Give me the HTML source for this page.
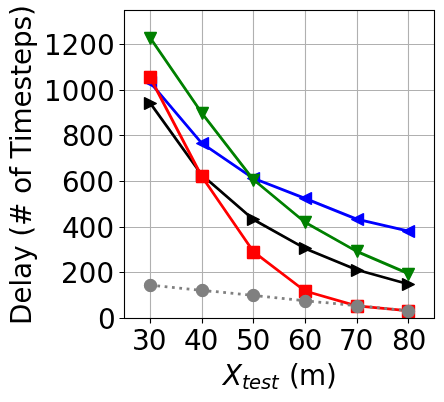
<!DOCTYPE html><html><head><meta charset="utf-8"><title>plot</title><style>html,body{margin:0;padding:0;background:#fff;font-family:"Liberation Sans",sans-serif}svg{display:block}</style></head><body><svg role="img" width="444" height="402" viewBox="0 0 444 402">
<title>Delay (# of Timesteps) vs X_test (m)</title>
<rect width="444" height="402" fill="#fff"/>
<path d="M149.94 9.92V317.92H151.06V9.92ZM201.94 9.92V317.92H203.06V9.92ZM252.94 9.92V317.92H254.06V9.92ZM304.94 9.92V317.92H306.06V9.92ZM356.94 9.92V317.92H358.06V9.92ZM407.94 9.92V317.92H409.06V9.92ZM124.15 317.94V319.06H434.15V317.94ZM124.15 271.94V273.06H434.15V271.94ZM124.15 226.94V228.06H434.15V226.94ZM124.15 180.94V182.06H434.15V180.94ZM124.15 134.94V136.06H434.15V134.94ZM124.15 89.94V91.06H434.15V89.94ZM124.15 43.95V45.05H434.15V43.95Z" fill="#b0b0b0"/>
<clipPath id="c"><rect x="124.15" y="9.92" width="310" height="308"/></clipPath>
<g clip-path="url(#c)">
<path d="M149.99 82.25L201.65 143.16L253.32 178.3L304.99 198.37L356.65 219.13L408.32 231" stroke="#0000ff" stroke-width="2.78" fill="none" stroke-linejoin="round" stroke-linecap="square"/>
<path d="M144.5 82.5L156.5 76.5L156.5 88.5Z" fill="#0000ff" stroke="#0000ff" stroke-width="1.39" stroke-linejoin="bevel"/>
<path d="M196.5 143.5L208.5 137.5L208.5 149.5Z" fill="#0000ff" stroke="#0000ff" stroke-width="1.39" stroke-linejoin="bevel"/>
<path d="M247.5 178.5L259.5 172.5L259.5 184.5Z" fill="#0000ff" stroke="#0000ff" stroke-width="1.39" stroke-linejoin="bevel"/>
<path d="M299.5 198.5L311.5 192.5L311.5 204.5Z" fill="#0000ff" stroke="#0000ff" stroke-width="1.39" stroke-linejoin="bevel"/>
<path d="M351.5 219.5L363.5 213.5L363.5 225.5Z" fill="#0000ff" stroke="#0000ff" stroke-width="1.39" stroke-linejoin="bevel"/>
<path d="M402.5 231.5L414.5 225.5L414.5 237.5Z" fill="#0000ff" stroke="#0000ff" stroke-width="1.39" stroke-linejoin="bevel"/>
<path d="M149.99 37.53L201.65 112.82L253.32 179.55L304.99 222.26L356.65 251.39L408.32 273.55" stroke="#008000" stroke-width="2.78" fill="none" stroke-linejoin="round" stroke-linecap="square"/>
<path d="M150.5 44.5L144.5 32.5L156.5 32.5Z" fill="#008000" stroke="#008000" stroke-width="1.39" stroke-linejoin="bevel"/>
<path d="M202.5 119.5L196.5 107.5L208.5 107.5Z" fill="#008000" stroke="#008000" stroke-width="1.39" stroke-linejoin="bevel"/>
<path d="M253.5 186.5L247.5 174.5L259.5 174.5Z" fill="#008000" stroke="#008000" stroke-width="1.39" stroke-linejoin="bevel"/>
<path d="M305.5 228.5L299.5 216.5L311.5 216.5Z" fill="#008000" stroke="#008000" stroke-width="1.39" stroke-linejoin="bevel"/>
<path d="M357.5 257.5L351.5 245.5L363.5 245.5Z" fill="#008000" stroke="#008000" stroke-width="1.39" stroke-linejoin="bevel"/>
<path d="M408.5 280.5L402.5 268.5L414.5 268.5Z" fill="#008000" stroke="#008000" stroke-width="1.39" stroke-linejoin="bevel"/>
<path d="M149.99 102.89L201.65 174.76L253.32 219.45L304.99 248.41L356.65 269.78L408.32 284.16" stroke="#000000" stroke-width="2.78" fill="none" stroke-linejoin="round" stroke-linecap="square"/>
<path d="M156.5 103.5L144.5 97.5L144.5 109.5Z" fill="#000000" stroke="#000000" stroke-width="1.39" stroke-linejoin="bevel"/>
<path d="M208.5 175.5L196.5 169.5L196.5 181.5Z" fill="#000000" stroke="#000000" stroke-width="1.39" stroke-linejoin="bevel"/>
<path d="M259.5 219.5L247.5 213.5L247.5 225.5Z" fill="#000000" stroke="#000000" stroke-width="1.39" stroke-linejoin="bevel"/>
<path d="M311.5 248.5L299.5 242.5L299.5 254.5Z" fill="#000000" stroke="#000000" stroke-width="1.39" stroke-linejoin="bevel"/>
<path d="M363.5 270.5L351.5 264.5L351.5 276.5Z" fill="#000000" stroke="#000000" stroke-width="1.39" stroke-linejoin="bevel"/>
<path d="M414.5 284.5L402.5 278.5L402.5 290.5Z" fill="#000000" stroke="#000000" stroke-width="1.39" stroke-linejoin="bevel"/>
<path d="M149.99 77.23L201.65 176.24L253.32 251.53L304.99 291L356.65 305.83L408.32 310.85" stroke="#ff0000" stroke-width="2.78" fill="none" stroke-linejoin="round" stroke-linecap="square"/>
<rect x="144.5" y="71.5" width="12" height="12" fill="#ff0000" stroke="#ff0000" stroke-width="1.39" stroke-linejoin="bevel"/>
<rect x="196.5" y="170.5" width="12" height="12" fill="#ff0000" stroke="#ff0000" stroke-width="1.39" stroke-linejoin="bevel"/>
<rect x="247.5" y="246.5" width="12" height="12" fill="#ff0000" stroke="#ff0000" stroke-width="1.39" stroke-linejoin="bevel"/>
<rect x="299.5" y="285.5" width="12" height="12" fill="#ff0000" stroke="#ff0000" stroke-width="1.39" stroke-linejoin="bevel"/>
<rect x="351.5" y="300.5" width="12" height="12" fill="#ff0000" stroke="#ff0000" stroke-width="1.39" stroke-linejoin="bevel"/>
<rect x="402.5" y="305.5" width="12" height="12" fill="#ff0000" stroke="#ff0000" stroke-width="1.39" stroke-linejoin="bevel"/>
<path d="M149.99 285.07L201.65 290.32L253.32 295.34L304.99 300.81L356.65 305.6L408.32 310.85" stroke="#808080" stroke-width="2.78" fill="none" stroke-dasharray="2.78 4.58" stroke-dashoffset="0"/>
<circle cx="150.5" cy="285.5" r="6" fill="#808080" stroke="#808080" stroke-width="1.39"/>
<circle cx="202.5" cy="290.5" r="6" fill="#808080" stroke="#808080" stroke-width="1.39"/>
<circle cx="253.5" cy="295.5" r="6" fill="#808080" stroke="#808080" stroke-width="1.39"/>
<circle cx="305.5" cy="301.5" r="6" fill="#808080" stroke="#808080" stroke-width="1.39"/>
<circle cx="357.5" cy="306.5" r="6" fill="#808080" stroke="#808080" stroke-width="1.39"/>
<circle cx="408.5" cy="311.5" r="6" fill="#808080" stroke="#808080" stroke-width="1.39"/>
</g>
<path d="M149.94 318.5V323.5H151.06V318.5ZM201.94 318.5V323.5H203.06V318.5ZM252.94 318.5V323.5H254.06V318.5ZM304.94 318.5V323.5H306.06V318.5ZM356.94 318.5V323.5H358.06V318.5ZM407.94 318.5V323.5H409.06V318.5ZM119.5 317.94V319.06H124.5V317.94ZM119.5 271.94V273.06H124.5V271.94ZM119.5 226.94V228.06H124.5V226.94ZM119.5 180.94V182.06H124.5V180.94ZM119.5 134.94V136.06H124.5V134.94ZM119.5 89.94V91.06H124.5V89.94ZM119.5 43.95V45.05H124.5V43.95Z" fill="#000"/>
<rect x="124.5" y="10.5" width="310" height="308" fill="none" stroke="#000" stroke-width="1.11"/>
<path aria-label="30" transform="translate(132 350)" d="M11.3 -11.31L12.23 -11.04L13.05 -10.66L13.77 -10.17L14.38 -9.56L14.87 -8.86L15.22 -8.08L15.43 -7.22L15.5 -6.28L15.37 -4.87L14.98 -3.62L14.33 -2.55L13.42 -1.64L12.28 -0.92L10.92 -0.41L9.34 -0.1L7.55 0L6.91 -0.01L6.26 -0.06L5.6 -0.13L4.92 -0.23L4.24 -0.37L3.54 -0.53L2.84 -0.73L2.12 -0.95L2.12 -3.67L2.71 -3.32L3.32 -3.02L3.96 -2.76L4.62 -2.55L5.31 -2.38L6.02 -2.27L6.73 -2.2L7.47 -2.17L8.68 -2.24L9.74 -2.45L10.64 -2.8L11.39 -3.3L11.99 -3.93L12.41 -4.69L12.67 -5.57L12.75 -6.58L12.67 -7.52L12.43 -8.36L12.04 -9.09L11.48 -9.7L10.8 -10.2L9.98 -10.55L9.05 -10.76L7.98 -10.83L5.62 -10.83L5.62 -13L8.09 -13L9.04 -13.05L9.87 -13.18L10.58 -13.41L11.17 -13.73L11.64 -14.14L11.98 -14.63L12.18 -15.21L12.25 -15.86L12.18 -16.54L11.97 -17.13L11.63 -17.64L11.14 -18.06L10.53 -18.4L9.8 -18.64L8.96 -18.78L7.98 -18.83L7.41 -18.81L6.82 -18.77L6.2 -18.7L5.56 -18.59L4.91 -18.47L4.21 -18.31L3.49 -18.12L2.73 -17.91L2.73 -20.19L3.5 -20.38L4.25 -20.54L4.96 -20.68L5.66 -20.8L6.33 -20.89L6.99 -20.95L7.62 -20.99L8.23 -21L9.71 -20.91L11.03 -20.64L12.18 -20.2L13.17 -19.58L13.97 -18.81L14.54 -17.92L14.89 -16.9L15 -15.75L14.94 -14.95L14.76 -14.21L14.46 -13.53L14.03 -12.92L13.5 -12.39L12.87 -11.94L12.14 -11.58L11.3 -11.31ZM25.62 -18.83L24.63 -18.7L23.77 -18.31L23.04 -17.66L22.44 -16.75L21.97 -15.58L21.64 -14.15L21.44 -12.46L21.38 -10.5L21.44 -8.54L21.64 -6.85L21.97 -5.42L22.44 -4.25L23.04 -3.34L23.77 -2.69L24.63 -2.3L25.62 -2.17L26.62 -2.3L27.48 -2.69L28.21 -3.34L28.81 -4.25L29.28 -5.42L29.61 -6.85L29.81 -8.54L29.88 -10.5L29.81 -12.46L29.61 -14.15L29.28 -15.58L28.81 -16.75L28.21 -17.66L27.48 -18.31L26.62 -18.7L25.62 -18.83ZM25.62 -21L27.23 -20.83L28.63 -20.33L29.83 -19.49L30.83 -18.31L31.61 -16.82L32.18 -15.02L32.51 -12.91L32.62 -10.5L32.51 -8.09L32.18 -5.98L31.61 -4.18L30.83 -2.69L29.83 -1.51L28.63 -0.67L27.23 -0.17L25.62 0L24.02 -0.17L22.62 -0.67L21.42 -1.51L20.42 -2.69L19.64 -4.18L19.07 -5.98L18.74 -8.09L18.62 -10.5L18.74 -12.91L19.07 -15.02L19.64 -16.82L20.42 -18.31L21.42 -19.49L22.62 -20.33L24.02 -20.83L25.62 -21Z" fill="#000"/>
<path aria-label="40" transform="translate(184 350)" d="M10.5 -18.53L3.59 -7.34L10.5 -7.34L10.5 -18.53ZM9.78 -21L13.25 -21L13.25 -7.34L16.12 -7.34L16.12 -5L13.25 -5L13.25 0L10.5 0L10.5 -5L1.38 -5L1.38 -7.72L9.78 -21ZM25.5 -18.83L24.5 -18.7L23.64 -18.31L22.91 -17.66L22.31 -16.75L21.85 -15.58L21.52 -14.15L21.32 -12.46L21.25 -10.5L21.32 -8.54L21.52 -6.85L21.85 -5.42L22.31 -4.25L22.91 -3.34L23.64 -2.69L24.5 -2.3L25.5 -2.17L26.5 -2.3L27.36 -2.69L28.09 -3.34L28.69 -4.25L29.15 -5.42L29.48 -6.85L29.68 -8.54L29.75 -10.5L29.68 -12.46L29.48 -14.15L29.15 -15.58L28.69 -16.75L28.09 -17.66L27.36 -18.31L26.5 -18.7L25.5 -18.83ZM25.5 -21L27.1 -20.83L28.5 -20.33L29.7 -19.49L30.7 -18.31L31.49 -16.82L32.05 -15.02L32.39 -12.91L32.5 -10.5L32.39 -8.09L32.05 -5.98L31.49 -4.18L30.7 -2.69L29.7 -1.51L28.5 -0.67L27.1 -0.17L25.5 0L23.9 -0.17L22.5 -0.67L21.3 -1.51L20.3 -2.69L19.51 -4.18L18.95 -5.98L18.61 -8.09L18.5 -10.5L18.61 -12.91L18.95 -15.02L19.51 -16.82L20.3 -18.31L21.3 -19.49L22.5 -20.33L23.9 -20.83L25.5 -21Z" fill="#000"/>
<path aria-label="50" transform="translate(236 350)" d="M3 -21L13.75 -21L13.75 -18.83L5.5 -18.83L5.5 -13.61L5.8 -13.7L6.09 -13.77L6.39 -13.84L6.69 -13.89L6.99 -13.94L7.29 -13.97L7.59 -13.99L7.89 -14L9.5 -13.88L10.93 -13.53L12.19 -12.94L13.27 -12.11L14.13 -11.08L14.75 -9.89L15.13 -8.53L15.25 -7L15.12 -5.43L14.74 -4.04L14.1 -2.84L13.2 -1.83L12.08 -1.03L10.75 -0.46L9.22 -0.11L7.47 0L6.83 -0.01L6.18 -0.05L5.52 -0.11L4.86 -0.2L4.2 -0.32L3.52 -0.46L2.83 -0.62L2.12 -0.81L2.12 -3.56L2.74 -3.23L3.36 -2.95L4 -2.71L4.64 -2.52L5.31 -2.37L5.99 -2.26L6.69 -2.19L7.41 -2.17L8.52 -2.25L9.52 -2.5L10.38 -2.9L11.12 -3.47L11.73 -4.17L12.16 -5L12.41 -5.93L12.5 -6.98L12.41 -8.05L12.16 -9L11.73 -9.82L11.12 -10.53L10.38 -11.1L9.52 -11.5L8.53 -11.75L7.42 -11.83L6.88 -11.81L6.33 -11.76L5.78 -11.68L5.23 -11.56L4.68 -11.42L4.13 -11.24L3.57 -11.02L3 -10.77L3 -21ZM25.5 -18.83L24.5 -18.7L23.64 -18.31L22.91 -17.66L22.31 -16.75L21.85 -15.58L21.52 -14.15L21.32 -12.46L21.25 -10.5L21.32 -8.54L21.52 -6.85L21.85 -5.42L22.31 -4.25L22.91 -3.34L23.64 -2.69L24.5 -2.3L25.5 -2.17L26.5 -2.3L27.36 -2.69L28.09 -3.34L28.69 -4.25L29.15 -5.42L29.48 -6.85L29.68 -8.54L29.75 -10.5L29.68 -12.46L29.48 -14.15L29.15 -15.58L28.69 -16.75L28.09 -17.66L27.36 -18.31L26.5 -18.7L25.5 -18.83ZM25.5 -21L27.1 -20.83L28.5 -20.33L29.7 -19.49L30.7 -18.31L31.49 -16.82L32.05 -15.02L32.39 -12.91L32.5 -10.5L32.39 -8.09L32.05 -5.98L31.49 -4.18L30.7 -2.69L29.7 -1.51L28.5 -0.67L27.1 -0.17L25.5 0L23.9 -0.17L22.5 -0.67L21.3 -1.51L20.3 -2.69L19.51 -4.18L18.95 -5.98L18.61 -8.09L18.5 -10.5L18.61 -12.91L18.95 -15.02L19.51 -16.82L20.3 -18.31L21.3 -19.49L22.5 -20.33L23.9 -20.83L25.5 -21Z" fill="#000"/>
<path aria-label="60" transform="translate(288 350)" d="M9.14 -12L8.27 -11.92L7.49 -11.67L6.81 -11.26L6.22 -10.69L5.75 -9.97L5.42 -9.13L5.22 -8.17L5.16 -7.08L5.22 -6L5.42 -5.05L5.75 -4.21L6.22 -3.48L6.81 -2.91L7.49 -2.5L8.27 -2.25L9.14 -2.17L10.01 -2.25L10.79 -2.5L11.47 -2.91L12.05 -3.48L12.52 -4.21L12.86 -5.05L13.06 -6L13.12 -7.08L13.06 -8.17L12.86 -9.13L12.52 -9.97L12.05 -10.69L11.47 -11.26L10.79 -11.67L10.01 -11.92L9.14 -12ZM14.56 -20.23L14.56 -17.88L14.04 -18.09L13.51 -18.29L12.98 -18.45L12.45 -18.58L11.93 -18.69L11.41 -18.77L10.88 -18.81L10.36 -18.83L9.07 -18.72L7.95 -18.39L6.99 -17.83L6.19 -17.06L5.56 -16.07L5.11 -14.84L4.84 -13.39L4.75 -11.72L5.17 -12.28L5.64 -12.77L6.17 -13.18L6.73 -13.53L7.34 -13.81L7.98 -14.01L8.66 -14.13L9.36 -14.17L10.79 -14.05L12.06 -13.7L13.17 -13.1L14.12 -12.27L14.89 -11.23L15.44 -10.02L15.77 -8.63L15.88 -7.08L15.76 -5.56L15.41 -4.19L14.84 -2.99L14.03 -1.94L13.03 -1.09L11.88 -0.48L10.57 -0.12L9.11 0L7.46 -0.17L6.01 -0.67L4.77 -1.51L3.73 -2.69L2.92 -4.18L2.34 -5.98L1.99 -8.09L1.88 -10.5L2.02 -12.78L2.45 -14.81L3.16 -16.6L4.16 -18.14L5.39 -19.39L6.83 -20.29L8.46 -20.82L10.28 -21L10.8 -20.99L11.32 -20.95L11.84 -20.89L12.36 -20.81L12.9 -20.71L13.44 -20.57L14 -20.42L14.56 -20.23ZM25.5 -18.83L24.5 -18.7L23.64 -18.31L22.91 -17.66L22.31 -16.75L21.85 -15.58L21.52 -14.15L21.32 -12.46L21.25 -10.5L21.32 -8.54L21.52 -6.85L21.85 -5.42L22.31 -4.25L22.91 -3.34L23.64 -2.69L24.5 -2.3L25.5 -2.17L26.5 -2.3L27.36 -2.69L28.09 -3.34L28.69 -4.25L29.15 -5.42L29.48 -6.85L29.68 -8.54L29.75 -10.5L29.68 -12.46L29.48 -14.15L29.15 -15.58L28.69 -16.75L28.09 -17.66L27.36 -18.31L26.5 -18.7L25.5 -18.83ZM25.5 -21L27.1 -20.83L28.5 -20.33L29.7 -19.49L30.7 -18.31L31.49 -16.82L32.05 -15.02L32.39 -12.91L32.5 -10.5L32.39 -8.09L32.05 -5.98L31.49 -4.18L30.7 -2.69L29.7 -1.51L28.5 -0.67L27.1 -0.17L25.5 0L23.9 -0.17L22.5 -0.67L21.3 -1.51L20.3 -2.69L19.51 -4.18L18.95 -5.98L18.61 -8.09L18.5 -10.5L18.61 -12.91L18.95 -15.02L19.51 -16.82L20.3 -18.31L21.3 -19.49L22.5 -20.33L23.9 -20.83L25.5 -21Z" fill="#000"/>
<path aria-label="70" transform="translate(339 350)" d="M2.25 -21L15.25 -21L15.25 -19.91L7.91 0L5.05 0L11.95 -18.83L2.25 -18.83L2.25 -21ZM25.5 -18.83L24.5 -18.7L23.64 -18.31L22.91 -17.66L22.31 -16.75L21.85 -15.58L21.52 -14.15L21.32 -12.46L21.25 -10.5L21.32 -8.54L21.52 -6.85L21.85 -5.42L22.31 -4.25L22.91 -3.34L23.64 -2.69L24.5 -2.3L25.5 -2.17L26.5 -2.3L27.36 -2.69L28.09 -3.34L28.69 -4.25L29.15 -5.42L29.48 -6.85L29.68 -8.54L29.75 -10.5L29.68 -12.46L29.48 -14.15L29.15 -15.58L28.69 -16.75L28.09 -17.66L27.36 -18.31L26.5 -18.7L25.5 -18.83ZM25.5 -21L27.1 -20.83L28.5 -20.33L29.7 -19.49L30.7 -18.31L31.49 -16.82L32.05 -15.02L32.39 -12.91L32.5 -10.5L32.39 -8.09L32.05 -5.98L31.49 -4.18L30.7 -2.69L29.7 -1.51L28.5 -0.67L27.1 -0.17L25.5 0L23.9 -0.17L22.5 -0.67L21.3 -1.51L20.3 -2.69L19.51 -4.18L18.95 -5.98L18.61 -8.09L18.5 -10.5L18.61 -12.91L18.95 -15.02L19.51 -16.82L20.3 -18.31L21.3 -19.49L22.5 -20.33L23.9 -20.83L25.5 -21Z" fill="#000"/>
<path aria-label="80" transform="translate(392 350)" d="M8.81 -10L7.89 -9.93L7.07 -9.74L6.35 -9.41L5.73 -8.95L5.25 -8.38L4.9 -7.71L4.69 -6.95L4.62 -6.09L4.69 -5.22L4.9 -4.45L5.25 -3.78L5.73 -3.2L6.35 -2.75L7.07 -2.43L7.89 -2.24L8.81 -2.17L9.73 -2.24L10.55 -2.43L11.26 -2.76L11.88 -3.22L12.37 -3.79L12.72 -4.46L12.93 -5.23L13 -6.09L12.93 -6.95L12.72 -7.71L12.37 -8.38L11.88 -8.95L11.27 -9.41L10.55 -9.74L9.74 -9.93L8.81 -10ZM6.11 -11.17L5.28 -11.44L4.54 -11.8L3.9 -12.26L3.36 -12.81L2.93 -13.45L2.62 -14.16L2.44 -14.92L2.38 -15.75L2.48 -16.9L2.8 -17.93L3.34 -18.83L4.09 -19.59L5.03 -20.21L6.13 -20.65L7.39 -20.91L8.81 -21L10.24 -20.91L11.5 -20.65L12.6 -20.21L13.53 -19.59L14.28 -18.83L14.82 -17.93L15.14 -16.91L15.25 -15.77L15.19 -14.93L15 -14.16L14.7 -13.45L14.27 -12.81L13.72 -12.26L13.09 -11.8L12.35 -11.44L11.52 -11.17L12.46 -10.89L13.29 -10.5L14.01 -9.99L14.62 -9.38L15.12 -8.67L15.47 -7.88L15.68 -7.03L15.75 -6.09L15.64 -4.7L15.3 -3.48L14.74 -2.44L13.95 -1.56L12.96 -0.88L11.77 -0.39L10.39 -0.1L8.81 0L7.24 -0.1L5.86 -0.39L4.67 -0.88L3.67 -1.56L2.89 -2.44L2.32 -3.48L1.99 -4.7L1.88 -6.09L1.95 -7.02L2.16 -7.87L2.51 -8.65L3 -9.36L3.62 -9.98L4.34 -10.49L5.17 -10.89L6.11 -11.17ZM5.12 -15.5L5.19 -14.76L5.37 -14.11L5.67 -13.53L6.09 -13.05L6.63 -12.66L7.26 -12.39L7.99 -12.23L8.81 -12.17L9.63 -12.23L10.36 -12.39L10.98 -12.66L11.52 -13.05L11.95 -13.53L12.25 -14.11L12.44 -14.76L12.5 -15.5L12.44 -16.24L12.25 -16.89L11.95 -17.46L11.52 -17.94L10.98 -18.33L10.36 -18.61L9.63 -18.77L8.81 -18.83L7.99 -18.77L7.26 -18.61L6.63 -18.33L6.09 -17.94L5.67 -17.46L5.37 -16.89L5.19 -16.24L5.12 -15.5ZM25.5 -18.83L24.5 -18.7L23.64 -18.31L22.91 -17.66L22.31 -16.75L21.85 -15.58L21.52 -14.15L21.32 -12.46L21.25 -10.5L21.32 -8.54L21.52 -6.85L21.85 -5.42L22.31 -4.25L22.91 -3.34L23.64 -2.69L24.5 -2.3L25.5 -2.17L26.5 -2.3L27.36 -2.69L28.09 -3.34L28.69 -4.25L29.15 -5.42L29.48 -6.85L29.68 -8.54L29.75 -10.5L29.68 -12.46L29.48 -14.15L29.15 -15.58L28.69 -16.75L28.09 -17.66L27.36 -18.31L26.5 -18.7L25.5 -18.83ZM25.5 -21L27.1 -20.83L28.5 -20.33L29.7 -19.49L30.7 -18.31L31.49 -16.82L32.05 -15.02L32.39 -12.91L32.5 -10.5L32.39 -8.09L32.05 -5.98L31.49 -4.18L30.7 -2.69L29.7 -1.51L28.5 -0.67L27.1 -0.17L25.5 0L23.9 -0.17L22.5 -0.67L21.3 -1.51L20.3 -2.69L19.51 -4.18L18.95 -5.98L18.61 -8.09L18.5 -10.5L18.61 -12.91L18.95 -15.02L19.51 -16.82L20.3 -18.31L21.3 -19.49L22.5 -20.33L23.9 -20.83L25.5 -21Z" fill="#000"/>
<path aria-label="0" transform="translate(98 329)" d="M8.88 -18.83L7.88 -18.7L7.02 -18.31L6.29 -17.66L5.69 -16.75L5.22 -15.58L4.89 -14.15L4.69 -12.46L4.62 -10.5L4.69 -8.54L4.89 -6.85L5.22 -5.42L5.69 -4.25L6.29 -3.34L7.02 -2.69L7.88 -2.3L8.88 -2.17L9.87 -2.3L10.73 -2.69L11.46 -3.34L12.06 -4.25L12.53 -5.42L12.86 -6.85L13.06 -8.54L13.12 -10.5L13.06 -12.46L12.86 -14.15L12.53 -15.58L12.06 -16.75L11.46 -17.66L10.73 -18.31L9.87 -18.7L8.88 -18.83ZM8.88 -21L10.48 -20.83L11.88 -20.33L13.08 -19.49L14.08 -18.31L14.86 -16.82L15.43 -15.02L15.76 -12.91L15.88 -10.5L15.76 -8.09L15.43 -5.98L14.86 -4.18L14.08 -2.69L13.08 -1.51L11.88 -0.67L10.48 -0.17L8.88 0L7.27 -0.17L5.87 -0.67L4.67 -1.51L3.67 -2.69L2.89 -4.18L2.32 -5.98L1.99 -8.09L1.88 -10.5L1.99 -12.91L2.32 -15.02L2.89 -16.82L3.67 -18.31L4.67 -19.49L5.87 -20.33L7.27 -20.83L8.88 -21Z" fill="#000"/>
<path aria-label="200" transform="translate(61 283)" d="M5.3 -2.17L14.88 -2.17L14.88 0L2 0L2 -2.17L2.85 -3.08L3.84 -4.13L4.98 -5.33L6.25 -6.67L7.48 -7.97L8.45 -9.01L9.17 -9.79L9.64 -10.33L10.25 -11.07L10.75 -11.75L11.16 -12.38L11.47 -12.94L11.7 -13.47L11.87 -13.99L11.97 -14.51L12 -15.03L11.93 -15.83L11.71 -16.55L11.36 -17.2L10.86 -17.77L10.25 -18.23L9.56 -18.56L8.79 -18.76L7.92 -18.83L7.26 -18.8L6.59 -18.71L5.9 -18.56L5.19 -18.36L4.46 -18.1L3.71 -17.78L2.94 -17.4L2.14 -16.95L2.14 -19.73L2.96 -20.03L3.74 -20.29L4.5 -20.51L5.23 -20.69L5.94 -20.82L6.61 -20.92L7.25 -20.98L7.86 -21L9.35 -20.9L10.68 -20.59L11.86 -20.09L12.88 -19.38L13.7 -18.5L14.28 -17.49L14.63 -16.35L14.75 -15.06L14.72 -14.43L14.63 -13.81L14.49 -13.21L14.28 -12.62L14 -12.02L13.62 -11.37L13.15 -10.66L12.58 -9.91L12.31 -9.61L11.87 -9.12L11.24 -8.44L10.42 -7.56L9.42 -6.5L8.23 -5.25L6.86 -3.81L5.3 -2.17ZM26.5 -18.83L25.5 -18.7L24.64 -18.31L23.91 -17.66L23.31 -16.75L22.85 -15.58L22.52 -14.15L22.32 -12.46L22.25 -10.5L22.32 -8.54L22.52 -6.85L22.85 -5.42L23.31 -4.25L23.91 -3.34L24.64 -2.69L25.5 -2.3L26.5 -2.17L27.5 -2.3L28.36 -2.69L29.09 -3.34L29.69 -4.25L30.15 -5.42L30.48 -6.85L30.68 -8.54L30.75 -10.5L30.68 -12.46L30.48 -14.15L30.15 -15.58L29.69 -16.75L29.09 -17.66L28.36 -18.31L27.5 -18.7L26.5 -18.83ZM26.5 -21L28.1 -20.83L29.5 -20.33L30.7 -19.49L31.7 -18.31L32.49 -16.82L33.05 -15.02L33.39 -12.91L33.5 -10.5L33.39 -8.09L33.05 -5.98L32.49 -4.18L31.7 -2.69L30.7 -1.51L29.5 -0.67L28.1 -0.17L26.5 0L24.9 -0.17L23.5 -0.67L22.3 -1.51L21.3 -2.69L20.51 -4.18L19.95 -5.98L19.61 -8.09L19.5 -10.5L19.61 -12.91L19.95 -15.02L20.51 -16.82L21.3 -18.31L22.3 -19.49L23.5 -20.33L24.9 -20.83L26.5 -21ZM44.25 -18.83L43.25 -18.7L42.39 -18.31L41.66 -17.66L41.06 -16.75L40.6 -15.58L40.27 -14.15L40.07 -12.46L40 -10.5L40.07 -8.54L40.27 -6.85L40.6 -5.42L41.06 -4.25L41.66 -3.34L42.39 -2.69L43.25 -2.3L44.25 -2.17L45.25 -2.3L46.11 -2.69L46.84 -3.34L47.44 -4.25L47.9 -5.42L48.23 -6.85L48.43 -8.54L48.5 -10.5L48.43 -12.46L48.23 -14.15L47.9 -15.58L47.44 -16.75L46.84 -17.66L46.11 -18.31L45.25 -18.7L44.25 -18.83ZM44.25 -21L45.85 -20.83L47.25 -20.33L48.45 -19.49L49.45 -18.31L50.24 -16.82L50.8 -15.02L51.14 -12.91L51.25 -10.5L51.14 -8.09L50.8 -5.98L50.24 -4.18L49.45 -2.69L48.45 -1.51L47.25 -0.67L45.85 -0.17L44.25 0L42.65 -0.17L41.25 -0.67L40.05 -1.51L39.05 -2.69L38.26 -4.18L37.7 -5.98L37.36 -8.09L37.25 -10.5L37.36 -12.91L37.7 -15.02L38.26 -16.82L39.05 -18.31L40.05 -19.49L41.25 -20.33L42.65 -20.83L44.25 -21Z" fill="#000"/>
<path aria-label="400" transform="translate(62 238)" d="M10.5 -18.53L3.59 -7.34L10.5 -7.34L10.5 -18.53ZM9.78 -21L13.25 -21L13.25 -7.34L16.12 -7.34L16.12 -5L13.25 -5L13.25 0L10.5 0L10.5 -5L1.38 -5L1.38 -7.72L9.78 -21ZM25.5 -18.83L24.5 -18.7L23.64 -18.31L22.91 -17.66L22.31 -16.75L21.85 -15.58L21.52 -14.15L21.32 -12.46L21.25 -10.5L21.32 -8.54L21.52 -6.85L21.85 -5.42L22.31 -4.25L22.91 -3.34L23.64 -2.69L24.5 -2.3L25.5 -2.17L26.5 -2.3L27.36 -2.69L28.09 -3.34L28.69 -4.25L29.15 -5.42L29.48 -6.85L29.68 -8.54L29.75 -10.5L29.68 -12.46L29.48 -14.15L29.15 -15.58L28.69 -16.75L28.09 -17.66L27.36 -18.31L26.5 -18.7L25.5 -18.83ZM25.5 -21L27.1 -20.83L28.5 -20.33L29.7 -19.49L30.7 -18.31L31.49 -16.82L32.05 -15.02L32.39 -12.91L32.5 -10.5L32.39 -8.09L32.05 -5.98L31.49 -4.18L30.7 -2.69L29.7 -1.51L28.5 -0.67L27.1 -0.17L25.5 0L23.9 -0.17L22.5 -0.67L21.3 -1.51L20.3 -2.69L19.51 -4.18L18.95 -5.98L18.61 -8.09L18.5 -10.5L18.61 -12.91L18.95 -15.02L19.51 -16.82L20.3 -18.31L21.3 -19.49L22.5 -20.33L23.9 -20.83L25.5 -21ZM43.25 -18.83L42.25 -18.7L41.39 -18.31L40.66 -17.66L40.06 -16.75L39.6 -15.58L39.27 -14.15L39.07 -12.46L39 -10.5L39.07 -8.54L39.27 -6.85L39.6 -5.42L40.06 -4.25L40.66 -3.34L41.39 -2.69L42.25 -2.3L43.25 -2.17L44.25 -2.3L45.11 -2.69L45.84 -3.34L46.44 -4.25L46.9 -5.42L47.23 -6.85L47.43 -8.54L47.5 -10.5L47.43 -12.46L47.23 -14.15L46.9 -15.58L46.44 -16.75L45.84 -17.66L45.11 -18.31L44.25 -18.7L43.25 -18.83ZM43.25 -21L44.85 -20.83L46.25 -20.33L47.45 -19.49L48.45 -18.31L49.24 -16.82L49.8 -15.02L50.14 -12.91L50.25 -10.5L50.14 -8.09L49.8 -5.98L49.24 -4.18L48.45 -2.69L47.45 -1.51L46.25 -0.67L44.85 -0.17L43.25 0L41.65 -0.17L40.25 -0.67L39.05 -1.51L38.05 -2.69L37.26 -4.18L36.7 -5.98L36.36 -8.09L36.25 -10.5L36.36 -12.91L36.7 -15.02L37.26 -16.82L38.05 -18.31L39.05 -19.49L40.25 -20.33L41.65 -20.83L43.25 -21Z" fill="#000"/>
<path aria-label="600" transform="translate(62 192)" d="M9.14 -12L8.27 -11.92L7.49 -11.67L6.81 -11.26L6.22 -10.69L5.75 -9.97L5.42 -9.13L5.22 -8.17L5.16 -7.08L5.22 -6L5.42 -5.05L5.75 -4.21L6.22 -3.48L6.81 -2.91L7.49 -2.5L8.27 -2.25L9.14 -2.17L10.01 -2.25L10.79 -2.5L11.47 -2.91L12.05 -3.48L12.52 -4.21L12.86 -5.05L13.06 -6L13.12 -7.08L13.06 -8.17L12.86 -9.13L12.52 -9.97L12.05 -10.69L11.47 -11.26L10.79 -11.67L10.01 -11.92L9.14 -12ZM14.56 -20.23L14.56 -17.88L14.04 -18.09L13.51 -18.29L12.98 -18.45L12.45 -18.58L11.93 -18.69L11.41 -18.77L10.88 -18.81L10.36 -18.83L9.07 -18.72L7.95 -18.39L6.99 -17.83L6.19 -17.06L5.56 -16.07L5.11 -14.84L4.84 -13.39L4.75 -11.72L5.17 -12.28L5.64 -12.77L6.17 -13.18L6.73 -13.53L7.34 -13.81L7.98 -14.01L8.66 -14.13L9.36 -14.17L10.79 -14.05L12.06 -13.7L13.17 -13.1L14.12 -12.27L14.89 -11.23L15.44 -10.02L15.77 -8.63L15.88 -7.08L15.76 -5.56L15.41 -4.19L14.84 -2.99L14.03 -1.94L13.03 -1.09L11.88 -0.48L10.57 -0.12L9.11 0L7.46 -0.17L6.01 -0.67L4.77 -1.51L3.73 -2.69L2.92 -4.18L2.34 -5.98L1.99 -8.09L1.88 -10.5L2.02 -12.78L2.45 -14.81L3.16 -16.6L4.16 -18.14L5.39 -19.39L6.83 -20.29L8.46 -20.82L10.28 -21L10.8 -20.99L11.32 -20.95L11.84 -20.89L12.36 -20.81L12.9 -20.71L13.44 -20.57L14 -20.42L14.56 -20.23ZM25.5 -18.83L24.5 -18.7L23.64 -18.31L22.91 -17.66L22.31 -16.75L21.85 -15.58L21.52 -14.15L21.32 -12.46L21.25 -10.5L21.32 -8.54L21.52 -6.85L21.85 -5.42L22.31 -4.25L22.91 -3.34L23.64 -2.69L24.5 -2.3L25.5 -2.17L26.5 -2.3L27.36 -2.69L28.09 -3.34L28.69 -4.25L29.15 -5.42L29.48 -6.85L29.68 -8.54L29.75 -10.5L29.68 -12.46L29.48 -14.15L29.15 -15.58L28.69 -16.75L28.09 -17.66L27.36 -18.31L26.5 -18.7L25.5 -18.83ZM25.5 -21L27.1 -20.83L28.5 -20.33L29.7 -19.49L30.7 -18.31L31.49 -16.82L32.05 -15.02L32.39 -12.91L32.5 -10.5L32.39 -8.09L32.05 -5.98L31.49 -4.18L30.7 -2.69L29.7 -1.51L28.5 -0.67L27.1 -0.17L25.5 0L23.9 -0.17L22.5 -0.67L21.3 -1.51L20.3 -2.69L19.51 -4.18L18.95 -5.98L18.61 -8.09L18.5 -10.5L18.61 -12.91L18.95 -15.02L19.51 -16.82L20.3 -18.31L21.3 -19.49L22.5 -20.33L23.9 -20.83L25.5 -21ZM43.25 -18.83L42.25 -18.7L41.39 -18.31L40.66 -17.66L40.06 -16.75L39.6 -15.58L39.27 -14.15L39.07 -12.46L39 -10.5L39.07 -8.54L39.27 -6.85L39.6 -5.42L40.06 -4.25L40.66 -3.34L41.39 -2.69L42.25 -2.3L43.25 -2.17L44.25 -2.3L45.11 -2.69L45.84 -3.34L46.44 -4.25L46.9 -5.42L47.23 -6.85L47.43 -8.54L47.5 -10.5L47.43 -12.46L47.23 -14.15L46.9 -15.58L46.44 -16.75L45.84 -17.66L45.11 -18.31L44.25 -18.7L43.25 -18.83ZM43.25 -21L44.85 -20.83L46.25 -20.33L47.45 -19.49L48.45 -18.31L49.24 -16.82L49.8 -15.02L50.14 -12.91L50.25 -10.5L50.14 -8.09L49.8 -5.98L49.24 -4.18L48.45 -2.69L47.45 -1.51L46.25 -0.67L44.85 -0.17L43.25 0L41.65 -0.17L40.25 -0.67L39.05 -1.51L38.05 -2.69L37.26 -4.18L36.7 -5.98L36.36 -8.09L36.25 -10.5L36.36 -12.91L36.7 -15.02L37.26 -16.82L38.05 -18.31L39.05 -19.49L40.25 -20.33L41.65 -20.83L43.25 -21Z" fill="#000"/>
<path aria-label="800" transform="translate(62 146)" d="M8.81 -10L7.89 -9.93L7.07 -9.74L6.35 -9.41L5.73 -8.95L5.25 -8.38L4.9 -7.71L4.69 -6.95L4.62 -6.09L4.69 -5.22L4.9 -4.45L5.25 -3.78L5.73 -3.2L6.35 -2.75L7.07 -2.43L7.89 -2.24L8.81 -2.17L9.73 -2.24L10.55 -2.43L11.26 -2.76L11.88 -3.22L12.37 -3.79L12.72 -4.46L12.93 -5.23L13 -6.09L12.93 -6.95L12.72 -7.71L12.37 -8.38L11.88 -8.95L11.27 -9.41L10.55 -9.74L9.74 -9.93L8.81 -10ZM6.11 -11.17L5.28 -11.44L4.54 -11.8L3.9 -12.26L3.36 -12.81L2.93 -13.45L2.62 -14.16L2.44 -14.92L2.38 -15.75L2.48 -16.9L2.8 -17.93L3.34 -18.83L4.09 -19.59L5.03 -20.21L6.13 -20.65L7.39 -20.91L8.81 -21L10.24 -20.91L11.5 -20.65L12.6 -20.21L13.53 -19.59L14.28 -18.83L14.82 -17.93L15.14 -16.91L15.25 -15.77L15.19 -14.93L15 -14.16L14.7 -13.45L14.27 -12.81L13.72 -12.26L13.09 -11.8L12.35 -11.44L11.52 -11.17L12.46 -10.89L13.29 -10.5L14.01 -9.99L14.62 -9.38L15.12 -8.67L15.47 -7.88L15.68 -7.03L15.75 -6.09L15.64 -4.7L15.3 -3.48L14.74 -2.44L13.95 -1.56L12.96 -0.88L11.77 -0.39L10.39 -0.1L8.81 0L7.24 -0.1L5.86 -0.39L4.67 -0.88L3.67 -1.56L2.89 -2.44L2.32 -3.48L1.99 -4.7L1.88 -6.09L1.95 -7.02L2.16 -7.87L2.51 -8.65L3 -9.36L3.62 -9.98L4.34 -10.49L5.17 -10.89L6.11 -11.17ZM5.12 -15.5L5.19 -14.76L5.37 -14.11L5.67 -13.53L6.09 -13.05L6.63 -12.66L7.26 -12.39L7.99 -12.23L8.81 -12.17L9.63 -12.23L10.36 -12.39L10.98 -12.66L11.52 -13.05L11.95 -13.53L12.25 -14.11L12.44 -14.76L12.5 -15.5L12.44 -16.24L12.25 -16.89L11.95 -17.46L11.52 -17.94L10.98 -18.33L10.36 -18.61L9.63 -18.77L8.81 -18.83L7.99 -18.77L7.26 -18.61L6.63 -18.33L6.09 -17.94L5.67 -17.46L5.37 -16.89L5.19 -16.24L5.12 -15.5ZM25.5 -18.83L24.5 -18.7L23.64 -18.31L22.91 -17.66L22.31 -16.75L21.85 -15.58L21.52 -14.15L21.32 -12.46L21.25 -10.5L21.32 -8.54L21.52 -6.85L21.85 -5.42L22.31 -4.25L22.91 -3.34L23.64 -2.69L24.5 -2.3L25.5 -2.17L26.5 -2.3L27.36 -2.69L28.09 -3.34L28.69 -4.25L29.15 -5.42L29.48 -6.85L29.68 -8.54L29.75 -10.5L29.68 -12.46L29.48 -14.15L29.15 -15.58L28.69 -16.75L28.09 -17.66L27.36 -18.31L26.5 -18.7L25.5 -18.83ZM25.5 -21L27.1 -20.83L28.5 -20.33L29.7 -19.49L30.7 -18.31L31.49 -16.82L32.05 -15.02L32.39 -12.91L32.5 -10.5L32.39 -8.09L32.05 -5.98L31.49 -4.18L30.7 -2.69L29.7 -1.51L28.5 -0.67L27.1 -0.17L25.5 0L23.9 -0.17L22.5 -0.67L21.3 -1.51L20.3 -2.69L19.51 -4.18L18.95 -5.98L18.61 -8.09L18.5 -10.5L18.61 -12.91L18.95 -15.02L19.51 -16.82L20.3 -18.31L21.3 -19.49L22.5 -20.33L23.9 -20.83L25.5 -21ZM43.25 -18.83L42.25 -18.7L41.39 -18.31L40.66 -17.66L40.06 -16.75L39.6 -15.58L39.27 -14.15L39.07 -12.46L39 -10.5L39.07 -8.54L39.27 -6.85L39.6 -5.42L40.06 -4.25L40.66 -3.34L41.39 -2.69L42.25 -2.3L43.25 -2.17L44.25 -2.3L45.11 -2.69L45.84 -3.34L46.44 -4.25L46.9 -5.42L47.23 -6.85L47.43 -8.54L47.5 -10.5L47.43 -12.46L47.23 -14.15L46.9 -15.58L46.44 -16.75L45.84 -17.66L45.11 -18.31L44.25 -18.7L43.25 -18.83ZM43.25 -21L44.85 -20.83L46.25 -20.33L47.45 -19.49L48.45 -18.31L49.24 -16.82L49.8 -15.02L50.14 -12.91L50.25 -10.5L50.14 -8.09L49.8 -5.98L49.24 -4.18L48.45 -2.69L47.45 -1.51L46.25 -0.67L44.85 -0.17L43.25 0L41.65 -0.17L40.25 -0.67L39.05 -1.51L38.05 -2.69L37.26 -4.18L36.7 -5.98L36.36 -8.09L36.25 -10.5L36.36 -12.91L36.7 -15.02L37.26 -16.82L38.05 -18.31L39.05 -19.49L40.25 -20.33L41.65 -20.83L43.25 -21Z" fill="#000"/>
<path aria-label="1000" transform="translate(44 101)" d="M3.38 -2.38L7.88 -2.38L7.88 -18.41L3 -17.39L3 -19.98L7.84 -21L10.62 -21L10.62 -2.38L15 -2.38L15 0L3.38 0L3.38 -2.38ZM26.5 -18.83L25.5 -18.7L24.64 -18.31L23.91 -17.66L23.31 -16.75L22.85 -15.58L22.52 -14.15L22.32 -12.46L22.25 -10.5L22.32 -8.54L22.52 -6.85L22.85 -5.42L23.31 -4.25L23.91 -3.34L24.64 -2.69L25.5 -2.3L26.5 -2.17L27.5 -2.3L28.36 -2.69L29.09 -3.34L29.69 -4.25L30.15 -5.42L30.48 -6.85L30.68 -8.54L30.75 -10.5L30.68 -12.46L30.48 -14.15L30.15 -15.58L29.69 -16.75L29.09 -17.66L28.36 -18.31L27.5 -18.7L26.5 -18.83ZM26.5 -21L28.1 -20.83L29.5 -20.33L30.7 -19.49L31.7 -18.31L32.49 -16.82L33.05 -15.02L33.39 -12.91L33.5 -10.5L33.39 -8.09L33.05 -5.98L32.49 -4.18L31.7 -2.69L30.7 -1.51L29.5 -0.67L28.1 -0.17L26.5 0L24.9 -0.17L23.5 -0.67L22.3 -1.51L21.3 -2.69L20.51 -4.18L19.95 -5.98L19.61 -8.09L19.5 -10.5L19.61 -12.91L19.95 -15.02L20.51 -16.82L21.3 -18.31L22.3 -19.49L23.5 -20.33L24.9 -20.83L26.5 -21ZM44.25 -18.83L43.25 -18.7L42.39 -18.31L41.66 -17.66L41.06 -16.75L40.6 -15.58L40.27 -14.15L40.07 -12.46L40 -10.5L40.07 -8.54L40.27 -6.85L40.6 -5.42L41.06 -4.25L41.66 -3.34L42.39 -2.69L43.25 -2.3L44.25 -2.17L45.25 -2.3L46.11 -2.69L46.84 -3.34L47.44 -4.25L47.9 -5.42L48.23 -6.85L48.43 -8.54L48.5 -10.5L48.43 -12.46L48.23 -14.15L47.9 -15.58L47.44 -16.75L46.84 -17.66L46.11 -18.31L45.25 -18.7L44.25 -18.83ZM44.25 -21L45.85 -20.83L47.25 -20.33L48.45 -19.49L49.45 -18.31L50.24 -16.82L50.8 -15.02L51.14 -12.91L51.25 -10.5L51.14 -8.09L50.8 -5.98L50.24 -4.18L49.45 -2.69L48.45 -1.51L47.25 -0.67L45.85 -0.17L44.25 0L42.65 -0.17L41.25 -0.67L40.05 -1.51L39.05 -2.69L38.26 -4.18L37.7 -5.98L37.36 -8.09L37.25 -10.5L37.36 -12.91L37.7 -15.02L38.26 -16.82L39.05 -18.31L40.05 -19.49L41.25 -20.33L42.65 -20.83L44.25 -21ZM62 -18.83L61 -18.7L60.14 -18.31L59.41 -17.66L58.81 -16.75L58.35 -15.58L58.02 -14.15L57.82 -12.46L57.75 -10.5L57.82 -8.54L58.02 -6.85L58.35 -5.42L58.81 -4.25L59.41 -3.34L60.14 -2.69L61 -2.3L62 -2.17L63 -2.3L63.86 -2.69L64.59 -3.34L65.19 -4.25L65.65 -5.42L65.98 -6.85L66.18 -8.54L66.25 -10.5L66.18 -12.46L65.98 -14.15L65.65 -15.58L65.19 -16.75L64.59 -17.66L63.86 -18.31L63 -18.7L62 -18.83ZM62 -21L63.6 -20.83L65 -20.33L66.2 -19.49L67.2 -18.31L67.99 -16.82L68.55 -15.02L68.89 -12.91L69 -10.5L68.89 -8.09L68.55 -5.98L67.99 -4.18L67.2 -2.69L66.2 -1.51L65 -0.67L63.6 -0.17L62 0L60.4 -0.17L59 -0.67L57.8 -1.51L56.8 -2.69L56.01 -4.18L55.45 -5.98L55.11 -8.09L55 -10.5L55.11 -12.91L55.45 -15.02L56.01 -16.82L56.8 -18.31L57.8 -19.49L59 -20.33L60.4 -20.83L62 -21Z" fill="#000"/>
<path aria-label="1200" transform="translate(44 55)" d="M3.38 -2.38L7.88 -2.38L7.88 -18.41L3 -17.39L3 -19.98L7.84 -21L10.62 -21L10.62 -2.38L15 -2.38L15 0L3.38 0L3.38 -2.38ZM22.92 -2.17L32.5 -2.17L32.5 0L19.62 0L19.62 -2.17L20.48 -3.08L21.47 -4.13L22.6 -5.33L23.88 -6.67L25.1 -7.97L26.07 -9.01L26.8 -9.79L27.27 -10.33L27.87 -11.07L28.38 -11.75L28.79 -12.38L29.09 -12.94L29.33 -13.47L29.49 -13.99L29.59 -14.51L29.62 -15.03L29.55 -15.83L29.34 -16.55L28.98 -17.2L28.48 -17.77L27.88 -18.23L27.19 -18.56L26.41 -18.76L25.55 -18.83L24.89 -18.8L24.21 -18.71L23.52 -18.56L22.81 -18.36L22.09 -18.1L21.34 -17.78L20.57 -17.4L19.77 -16.95L19.77 -19.73L20.58 -20.03L21.37 -20.29L22.13 -20.51L22.86 -20.69L23.56 -20.82L24.23 -20.92L24.88 -20.98L25.48 -21L26.98 -20.9L28.31 -20.59L29.48 -20.09L30.5 -19.38L31.32 -18.5L31.91 -17.49L32.26 -16.35L32.38 -15.06L32.35 -14.43L32.26 -13.81L32.11 -13.21L31.91 -12.62L31.62 -12.02L31.25 -11.37L30.77 -10.66L30.2 -9.91L29.94 -9.61L29.49 -9.12L28.86 -8.44L28.05 -7.56L27.05 -6.5L25.86 -5.25L24.48 -3.81L22.92 -2.17ZM44.12 -18.83L43.13 -18.7L42.27 -18.31L41.54 -17.66L40.94 -16.75L40.47 -15.58L40.14 -14.15L39.94 -12.46L39.88 -10.5L39.94 -8.54L40.14 -6.85L40.47 -5.42L40.94 -4.25L41.54 -3.34L42.27 -2.69L43.13 -2.3L44.12 -2.17L45.12 -2.3L45.98 -2.69L46.71 -3.34L47.31 -4.25L47.78 -5.42L48.11 -6.85L48.31 -8.54L48.38 -10.5L48.31 -12.46L48.11 -14.15L47.78 -15.58L47.31 -16.75L46.71 -17.66L45.98 -18.31L45.12 -18.7L44.12 -18.83ZM44.12 -21L45.73 -20.83L47.13 -20.33L48.33 -19.49L49.33 -18.31L50.11 -16.82L50.68 -15.02L51.01 -12.91L51.12 -10.5L51.01 -8.09L50.68 -5.98L50.11 -4.18L49.33 -2.69L48.33 -1.51L47.13 -0.67L45.73 -0.17L44.12 0L42.52 -0.17L41.12 -0.67L39.92 -1.51L38.92 -2.69L38.14 -4.18L37.57 -5.98L37.24 -8.09L37.12 -10.5L37.24 -12.91L37.57 -15.02L38.14 -16.82L38.92 -18.31L39.92 -19.49L41.12 -20.33L42.52 -20.83L44.12 -21ZM61.88 -18.83L60.88 -18.7L60.02 -18.31L59.29 -17.66L58.69 -16.75L58.22 -15.58L57.89 -14.15L57.69 -12.46L57.62 -10.5L57.69 -8.54L57.89 -6.85L58.22 -5.42L58.69 -4.25L59.29 -3.34L60.02 -2.69L60.88 -2.3L61.88 -2.17L62.87 -2.3L63.73 -2.69L64.46 -3.34L65.06 -4.25L65.53 -5.42L65.86 -6.85L66.06 -8.54L66.12 -10.5L66.06 -12.46L65.86 -14.15L65.53 -15.58L65.06 -16.75L64.46 -17.66L63.73 -18.31L62.87 -18.7L61.88 -18.83ZM61.88 -21L63.48 -20.83L64.88 -20.33L66.08 -19.49L67.08 -18.31L67.86 -16.82L68.43 -15.02L68.76 -12.91L68.88 -10.5L68.76 -8.09L68.43 -5.98L67.86 -4.18L67.08 -2.69L66.08 -1.51L64.88 -0.67L63.48 -0.17L61.88 0L60.27 -0.17L58.87 -0.67L57.67 -1.51L56.67 -2.69L55.89 -4.18L55.32 -5.98L54.99 -8.09L54.88 -10.5L54.99 -12.91L55.32 -15.02L55.89 -16.82L56.67 -18.31L57.67 -19.49L58.87 -20.33L60.27 -20.83L61.88 -21Z" fill="#000"/>
<path aria-label="X_test (m)" transform="translate(221 362)" d="M5.81 2L8.58 2L12.05 9.58L18.31 2L21.52 2L13.17 12.03L18.2 23L15.45 23L11.38 14.16L4 23L0.81 23L10.27 11.7L5.81 2ZM29.25 16L28.98 17.5L25.48 17.5L24.36 23.42L24.33 23.57L24.3 23.71L24.28 23.85L24.27 23.97L24.25 24.08L24.24 24.18L24.24 24.26L24.23 24.33L24.26 24.62L24.32 24.87L24.44 25.07L24.59 25.23L24.81 25.35L25.08 25.43L25.4 25.48L25.78 25.5L27.55 25.5L27.25 27L25.58 27L24.85 26.96L24.21 26.84L23.68 26.65L23.25 26.38L22.92 26.02L22.68 25.59L22.53 25.09L22.48 24.5L22.49 24.39L22.49 24.27L22.5 24.15L22.52 24.02L22.53 23.87L22.55 23.73L22.57 23.58L22.59 23.42L23.73 17.5L22.25 17.5L22.53 16L23.98 16L24.58 13L26.33 13L25.75 16L29.25 16ZM37.38 20.5L37.39 20.43L37.4 20.36L37.41 20.28L37.42 20.2L37.43 20.12L37.43 20.05L37.44 19.97L37.44 19.89L37.39 19.37L37.27 18.9L37.05 18.49L36.75 18.14L36.38 17.86L35.95 17.66L35.46 17.54L34.91 17.5L34.27 17.55L33.67 17.7L33.11 17.94L32.59 18.28L32.12 18.71L31.72 19.23L31.38 19.82L31.09 20.5L37.38 20.5ZM38.91 22L30.75 22L30.73 22.16L30.71 22.31L30.69 22.44L30.67 22.55L30.67 22.64L30.66 22.73L30.66 22.81L30.66 22.88L30.71 23.47L30.86 24L31.11 24.45L31.47 24.83L31.92 25.12L32.45 25.33L33.07 25.46L33.77 25.5L34.33 25.49L34.88 25.44L35.41 25.37L35.92 25.27L36.43 25.13L36.91 24.96L37.38 24.77L37.83 24.55L37.5 26.25L37.02 26.43L36.54 26.58L36.04 26.71L35.55 26.81L35.04 26.89L34.54 26.95L34.02 26.99L33.5 27L32.45 26.93L31.54 26.74L30.74 26.41L30.08 25.95L29.56 25.38L29.19 24.69L28.96 23.9L28.89 23L28.93 22.19L29.04 21.42L29.22 20.67L29.48 19.95L29.82 19.27L30.23 18.62L30.7 18.01L31.23 17.44L31.63 17.11L32.05 16.83L32.51 16.58L33 16.38L33.52 16.21L34.06 16.09L34.62 16.02L35.19 16L36.04 16.07L36.8 16.27L37.47 16.62L38.05 17.09L38.52 17.68L38.86 18.36L39.06 19.13L39.12 20L39.12 20.22L39.11 20.45L39.09 20.69L39.06 20.94L39.04 21.19L39 21.45L38.96 21.72L38.91 22ZM49.75 16.58L49.42 18.23L49.07 18.06L48.7 17.91L48.33 17.79L47.95 17.69L47.57 17.61L47.17 17.55L46.77 17.51L46.36 17.5L45.71 17.53L45.13 17.62L44.62 17.76L44.19 17.97L43.84 18.22L43.59 18.5L43.44 18.83L43.39 19.2L43.51 19.64L43.85 20.02L44.43 20.35L45.23 20.62L45.3 20.64L45.36 20.65L45.41 20.66L45.45 20.67L46.02 20.84L46.82 21.09L47.47 21.34L47.98 21.6L48.34 21.86L48.6 22.14L48.79 22.47L48.9 22.84L48.94 23.27L48.85 24.05L48.6 24.76L48.17 25.39L47.58 25.95L46.85 26.41L46.03 26.74L45.1 26.93L44.06 27L43.63 26.99L43.18 26.96L42.73 26.91L42.27 26.84L41.79 26.75L41.29 26.62L40.77 26.48L40.22 26.31L40.56 24.52L41.04 24.74L41.52 24.94L41.99 25.11L42.45 25.25L42.92 25.36L43.37 25.44L43.82 25.48L44.25 25.5L44.86 25.47L45.41 25.37L45.9 25.2L46.33 24.97L46.68 24.68L46.94 24.35L47.09 23.99L47.14 23.59L47.01 23.18L46.61 22.8L45.95 22.46L45.03 22.16L44.84 22.11L44.25 21.95L43.63 21.77L43.1 21.57L42.65 21.33L42.3 21.06L42.02 20.76L41.83 20.41L41.71 20.04L41.67 19.62L41.75 18.83L41.99 18.13L42.39 17.51L42.95 16.98L43.65 16.55L44.46 16.25L45.39 16.06L46.44 16L46.87 16.01L47.29 16.04L47.71 16.08L48.12 16.14L48.54 16.22L48.95 16.32L49.35 16.44L49.75 16.58ZM58.25 16L57.98 17.5L54.48 17.5L53.36 23.42L53.33 23.57L53.3 23.71L53.28 23.85L53.27 23.97L53.25 24.08L53.24 24.18L53.24 24.26L53.23 24.33L53.26 24.62L53.32 24.87L53.44 25.07L53.59 25.23L53.81 25.35L54.08 25.43L54.4 25.48L54.78 25.5L56.55 25.5L56.25 27L54.58 27L53.85 26.96L53.21 26.84L52.68 26.65L52.25 26.38L51.92 26.02L51.68 25.59L51.53 25.09L51.48 24.5L51.49 24.39L51.49 24.27L51.5 24.15L51.52 24.02L51.53 23.87L51.55 23.73L51.57 23.58L51.59 23.42L52.73 17.5L51.25 17.5L51.53 16L52.98 16L53.58 13L55.33 13L54.75 16L58.25 16ZM76.58 1L75.73 2.6L75 4.2L74.38 5.78L73.88 7.36L73.49 8.94L73.22 10.52L73.05 12.12L73 13.73L73.06 15.35L73.22 16.95L73.5 18.55L73.89 20.14L74.39 21.72L75.01 23.31L75.74 24.9L76.58 26.5L74.41 26.5L73.46 24.86L72.64 23.23L71.95 21.62L71.38 20.03L70.94 18.45L70.62 16.87L70.44 15.3L70.38 13.73L70.44 12.18L70.62 10.61L70.94 9.04L71.38 7.47L71.94 5.88L72.63 4.27L73.46 2.65L74.41 1L76.58 1ZM92.45 10.38L92.95 9.57L93.48 8.88L94.07 8.3L94.7 7.83L95.39 7.47L96.13 7.21L96.93 7.05L97.78 7L98.9 7.11L99.89 7.43L100.74 7.97L101.45 8.72L102.02 9.66L102.43 10.79L102.67 12.09L102.75 13.58L102.75 23L100.25 23L100.25 13.61L100.2 12.56L100.05 11.65L99.81 10.88L99.47 10.27L99.03 9.79L98.48 9.45L97.84 9.24L97.09 9.17L96.17 9.26L95.34 9.51L94.62 9.93L94 10.52L93.51 11.24L93.16 12.08L92.95 13.04L92.88 14.12L92.88 23L90.38 23L90.38 13.61L90.33 12.56L90.18 11.65L89.94 10.88L89.59 10.27L89.15 9.79L88.6 9.45L87.95 9.24L87.19 9.17L86.28 9.26L85.46 9.51L84.74 9.93L84.12 10.52L83.63 11.25L83.28 12.09L83.07 13.05L83 14.12L83 23L80.5 23L80.5 7L83 7L83 9.75L83.45 9.09L83.94 8.53L84.47 8.05L85.05 7.67L85.68 7.38L86.36 7.17L87.11 7.04L87.91 7L88.7 7.05L89.44 7.22L90.11 7.49L90.72 7.88L91.27 8.35L91.74 8.93L92.13 9.6L92.45 10.38ZM107.17 1L109.34 1L110.29 2.65L111.11 4.27L111.8 5.88L112.36 7.47L112.8 9.04L113.12 10.61L113.31 12.18L113.38 13.73L113.31 15.3L113.12 16.87L112.8 18.45L112.36 20.03L111.8 21.62L111.11 23.23L110.29 24.86L109.34 26.5L107.17 26.5L108.01 24.9L108.74 23.31L109.36 21.72L109.86 20.14L110.25 18.55L110.53 16.95L110.69 15.35L110.75 13.73L110.69 12.12L110.53 10.52L110.25 8.94L109.86 7.36L109.36 5.78L108.74 4.2L108.01 2.6L107.17 1Z" fill="#000"/>
<path aria-label="Delay (# of Timesteps)" transform="translate(31 325) rotate(-90)" d="M5.5 -18.83L5.5 -2.17L8.81 -2.17L10.76 -2.3L12.43 -2.67L13.81 -3.3L14.92 -4.17L15.78 -5.33L16.39 -6.77L16.75 -8.5L16.88 -10.53L16.75 -12.54L16.39 -14.25L15.78 -15.68L14.92 -16.83L13.81 -17.7L12.43 -18.33L10.76 -18.7L8.81 -18.83L5.5 -18.83ZM2.75 -21L8.38 -21L11.12 -20.84L13.47 -20.36L15.43 -19.57L17 -18.45L18.2 -17.01L19.06 -15.21L19.58 -13.05L19.75 -10.53L19.58 -7.99L19.06 -5.82L18.19 -4L16.98 -2.55L15.41 -1.43L13.45 -0.64L11.1 -0.16L8.38 0L2.75 0L2.75 -21ZM36.88 -9L36.88 -7.83L25.5 -7.83L25.59 -6.53L25.85 -5.4L26.28 -4.43L26.89 -3.62L27.66 -2.99L28.57 -2.54L29.62 -2.26L30.8 -2.17L31.52 -2.2L32.22 -2.27L32.92 -2.38L33.59 -2.55L34.27 -2.76L34.95 -3.03L35.62 -3.33L36.3 -3.69L36.3 -1.2L35.62 -0.92L34.94 -0.68L34.25 -0.47L33.55 -0.3L32.85 -0.17L32.14 -0.07L31.43 -0.02L30.72 0L29 -0.13L27.47 -0.53L26.13 -1.2L24.98 -2.12L24.06 -3.28L23.4 -4.62L23.01 -6.15L22.88 -7.86L23 -9.63L23.38 -11.21L24 -12.6L24.88 -13.8L25.96 -14.76L27.23 -15.45L28.67 -15.86L30.28 -16L31.72 -15.88L33.01 -15.53L34.13 -14.94L35.09 -14.11L35.87 -13.09L36.43 -11.89L36.76 -10.53L36.88 -9ZM34.38 -10L34.3 -10.83L34.09 -11.57L33.74 -12.22L33.25 -12.78L32.65 -13.24L31.96 -13.57L31.17 -13.76L30.3 -13.83L29.3 -13.77L28.41 -13.58L27.62 -13.27L26.94 -12.83L26.38 -12.28L25.95 -11.62L25.66 -10.86L25.5 -10L34.38 -10ZM41 -22L43.5 -22L43.5 0L41 0L41 -22ZM55.62 -8L54.23 -7.96L53.06 -7.83L52.12 -7.61L51.42 -7.31L50.91 -6.92L50.54 -6.4L50.32 -5.77L50.25 -5.02L50.3 -4.39L50.47 -3.84L50.74 -3.35L51.12 -2.94L51.61 -2.6L52.17 -2.36L52.8 -2.22L53.52 -2.17L54.51 -2.26L55.4 -2.53L56.18 -2.98L56.86 -3.61L57.41 -4.4L57.81 -5.3L58.05 -6.33L58.12 -7.47L58.12 -8L55.62 -8ZM60.62 -8.91L60.62 0L58.12 0L58.12 -2.77L57.67 -2.11L57.16 -1.54L56.6 -1.06L55.98 -0.67L55.31 -0.38L54.56 -0.17L53.75 -0.04L52.86 0L51.75 -0.08L50.75 -0.33L49.88 -0.75L49.12 -1.33L48.52 -2.05L48.09 -2.89L47.84 -3.84L47.75 -4.91L47.86 -6.14L48.18 -7.2L48.72 -8.11L49.47 -8.84L50.44 -9.42L51.62 -9.84L53.01 -10.09L54.61 -10.17L58.12 -10.17L58.12 -10.41L58.05 -11.17L57.84 -11.85L57.48 -12.43L56.98 -12.92L56.36 -13.32L55.62 -13.6L54.76 -13.77L53.8 -13.83L53.15 -13.81L52.5 -13.75L51.87 -13.66L51.25 -13.53L50.64 -13.36L50.04 -13.16L49.44 -12.92L48.86 -12.64L48.86 -14.91L49.54 -15.16L50.21 -15.38L50.88 -15.57L51.53 -15.72L52.17 -15.84L52.81 -15.93L53.43 -15.98L54.05 -16L55.6 -15.89L56.94 -15.56L58.07 -15.01L58.98 -14.23L59.7 -13.25L60.21 -12.03L60.52 -10.58L60.62 -8.91ZM72.11 1.42L71.58 2.72L71.06 3.77L70.55 4.57L70.05 5.12L69.5 5.51L68.88 5.78L68.17 5.95L67.38 6L65.38 6L65.38 3.86L66.84 3.86L67.33 3.83L67.76 3.73L68.13 3.56L68.44 3.33L68.73 2.98L69.04 2.47L69.36 1.78L69.7 0.92L70.14 -0.28L64 -16L66.66 -16L71.39 -3.5L76.14 -16L78.78 -16L72.11 1.42ZM96.95 -22L96.1 -20.4L95.37 -18.8L94.75 -17.22L94.25 -15.64L93.87 -14.06L93.59 -12.48L93.43 -10.88L93.38 -9.27L93.43 -7.65L93.6 -6.05L93.88 -4.45L94.27 -2.86L94.77 -1.28L95.38 0.31L96.11 1.9L96.95 3.5L94.78 3.5L93.84 1.86L93.02 0.23L92.32 -1.38L91.75 -2.97L91.31 -4.55L91 -6.13L90.81 -7.7L90.75 -9.27L90.81 -10.82L91 -12.39L91.31 -13.96L91.75 -15.53L92.31 -17.12L93.01 -18.73L93.83 -20.35L94.78 -22L96.95 -22ZM113.25 -12.84L109.31 -12.84L108.17 -8L112.14 -8L113.25 -12.84ZM111.22 -21L109.81 -15L113.77 -15L115.19 -21L117.36 -21L115.95 -15L120.25 -15L120.25 -12.84L115.42 -12.84L114.31 -8L118.62 -8L118.62 -5.83L113.8 -5.83L112.38 0L110.22 0L111.61 -5.83L107.64 -5.83L106.25 0L104.06 0L105.47 -5.83L101.25 -5.83L101.25 -8L105.97 -8L107.11 -12.84L102.75 -12.84L102.75 -15L107.64 -15L109.02 -21L111.22 -21ZM139.7 -13.83L138.75 -13.73L137.91 -13.44L137.17 -12.95L136.53 -12.27L136.03 -11.42L135.66 -10.43L135.45 -9.29L135.38 -8L135.45 -6.71L135.66 -5.57L136.03 -4.57L136.53 -3.72L137.16 -3.04L137.9 -2.56L138.75 -2.27L139.7 -2.17L140.64 -2.27L141.48 -2.56L142.21 -3.05L142.84 -3.73L143.35 -4.59L143.71 -5.58L143.93 -6.72L144 -8L143.93 -9.27L143.71 -10.41L143.35 -11.4L142.84 -12.25L142.21 -12.94L141.48 -13.43L140.64 -13.73L139.7 -13.83ZM139.69 -16L141.22 -15.87L142.59 -15.47L143.77 -14.8L144.78 -13.88L145.59 -12.71L146.16 -11.34L146.51 -9.77L146.62 -8L146.51 -6.23L146.16 -4.66L145.59 -3.29L144.78 -2.12L143.77 -1.2L142.59 -0.53L141.22 -0.13L139.69 0L138.15 -0.13L136.79 -0.53L135.6 -1.2L134.59 -2.12L133.79 -3.29L133.21 -4.66L132.87 -6.23L132.75 -8L132.87 -9.77L133.21 -11.34L133.79 -12.71L134.59 -13.88L135.6 -14.8L136.79 -15.47L138.15 -15.87L139.69 -16ZM158.44 -22L158.44 -19.83L156.03 -19.83L155.4 -19.79L154.88 -19.69L154.46 -19.52L154.14 -19.28L153.92 -18.96L153.75 -18.53L153.66 -17.99L153.62 -17.34L153.62 -16L157.75 -16L157.75 -13.83L153.62 -13.83L153.62 0L151.12 0L151.12 -13.83L148.75 -13.83L148.75 -16L151.12 -16L151.12 -17.06L151.2 -18.26L151.42 -19.29L151.79 -20.14L152.31 -20.81L152.99 -21.33L153.84 -21.7L154.87 -21.93L156.06 -22L158.44 -22ZM166.62 -21L183.75 -21L183.75 -18.83L176.5 -18.83L176.5 0L173.75 0L173.75 -18.83L166.62 -18.83L166.62 -21ZM185.38 -16L187.88 -16L187.88 0L185.38 0L185.38 -16ZM185.38 -22L187.88 -22L187.88 -19L185.38 -19L185.38 -22ZM204.95 -12.62L205.45 -13.43L205.98 -14.12L206.57 -14.7L207.2 -15.17L207.89 -15.53L208.63 -15.79L209.43 -15.95L210.28 -16L211.4 -15.89L212.39 -15.57L213.24 -15.03L213.95 -14.28L214.52 -13.34L214.93 -12.21L215.17 -10.91L215.25 -9.42L215.25 0L212.75 0L212.75 -9.39L212.7 -10.44L212.55 -11.35L212.31 -12.12L211.97 -12.73L211.53 -13.21L210.98 -13.55L210.34 -13.76L209.59 -13.83L208.67 -13.74L207.84 -13.49L207.12 -13.07L206.5 -12.48L206.01 -11.76L205.66 -10.92L205.45 -9.96L205.38 -8.88L205.38 0L202.88 0L202.88 -9.39L202.83 -10.44L202.68 -11.35L202.44 -12.12L202.09 -12.73L201.65 -13.21L201.1 -13.55L200.45 -13.76L199.69 -13.83L198.78 -13.74L197.96 -13.49L197.24 -13.07L196.62 -12.48L196.13 -11.75L195.78 -10.91L195.57 -9.95L195.5 -8.88L195.5 0L193 0L193 -16L195.5 -16L195.5 -13.25L195.95 -13.91L196.44 -14.47L196.97 -14.95L197.55 -15.33L198.18 -15.62L198.86 -15.83L199.61 -15.96L200.41 -16L201.2 -15.95L201.94 -15.78L202.61 -15.51L203.22 -15.12L203.77 -14.65L204.24 -14.07L204.63 -13.4L204.95 -12.62ZM233.12 -9L233.12 -7.83L221.75 -7.83L221.84 -6.53L222.1 -5.4L222.53 -4.43L223.14 -3.62L223.91 -2.99L224.82 -2.54L225.87 -2.26L227.05 -2.17L227.77 -2.2L228.47 -2.27L229.17 -2.38L229.84 -2.55L230.52 -2.76L231.2 -3.03L231.87 -3.33L232.55 -3.69L232.55 -1.2L231.87 -0.92L231.19 -0.68L230.5 -0.47L229.8 -0.3L229.1 -0.17L228.39 -0.07L227.68 -0.02L226.97 0L225.25 -0.13L223.72 -0.53L222.38 -1.2L221.23 -2.12L220.31 -3.28L219.65 -4.62L219.26 -6.15L219.12 -7.86L219.25 -9.63L219.62 -11.21L220.25 -12.6L221.12 -13.8L222.21 -14.76L223.48 -15.45L224.92 -15.86L226.53 -16L227.97 -15.88L229.26 -15.53L230.38 -14.94L231.34 -14.11L232.12 -13.09L232.68 -11.89L233.01 -10.53L233.12 -9ZM230.62 -10L230.55 -10.83L230.34 -11.57L229.99 -12.22L229.5 -12.78L228.9 -13.24L228.21 -13.57L227.42 -13.76L226.55 -13.83L225.55 -13.77L224.66 -13.58L223.87 -13.27L223.19 -12.83L222.63 -12.28L222.2 -11.62L221.91 -10.86L221.75 -10L230.62 -10ZM246.92 -15.16L246.92 -12.75L246.39 -13L245.84 -13.21L245.28 -13.4L244.72 -13.55L244.14 -13.67L243.55 -13.76L242.96 -13.81L242.34 -13.83L241.47 -13.79L240.71 -13.68L240.07 -13.5L239.55 -13.25L239.14 -12.93L238.86 -12.54L238.68 -12.08L238.62 -11.55L238.67 -11.14L238.79 -10.78L239 -10.46L239.3 -10.19L239.72 -9.95L240.3 -9.71L241.06 -9.49L241.98 -9.27L242.84 -9.06L244.08 -8.75L245.12 -8.38L245.97 -7.95L246.62 -7.45L247.12 -6.89L247.47 -6.22L247.68 -5.45L247.75 -4.58L247.65 -3.58L247.33 -2.69L246.81 -1.91L246.08 -1.23L245.16 -0.69L244.09 -0.31L242.86 -0.08L241.47 0L240.85 -0.01L240.21 -0.06L239.56 -0.13L238.91 -0.23L238.24 -0.38L237.55 -0.55L236.85 -0.75L236.12 -0.98L236.12 -3.59L236.81 -3.26L237.49 -2.96L238.16 -2.72L238.83 -2.52L239.5 -2.37L240.16 -2.26L240.83 -2.19L241.48 -2.17L242.31 -2.21L243.03 -2.32L243.65 -2.51L244.17 -2.77L244.59 -3.1L244.89 -3.5L245.07 -3.95L245.12 -4.47L245.08 -4.95L244.95 -5.36L244.74 -5.72L244.44 -6.02L244 -6.29L243.36 -6.55L242.52 -6.81L241.47 -7.06L240.59 -7.27L239.52 -7.54L238.61 -7.88L237.86 -8.28L237.27 -8.75L236.82 -9.3L236.5 -9.95L236.31 -10.7L236.25 -11.53L236.34 -12.54L236.63 -13.43L237.1 -14.19L237.77 -14.83L238.6 -15.34L239.6 -15.71L240.76 -15.93L242.08 -16L242.76 -15.99L243.41 -15.95L244.05 -15.88L244.67 -15.78L245.27 -15.67L245.84 -15.52L246.39 -15.35L246.92 -15.16ZM254.25 -20L254.25 -16L259.38 -16L259.38 -13.83L254.25 -13.83L254.25 -5.19L254.28 -4.3L254.38 -3.59L254.53 -3.05L254.75 -2.69L255.07 -2.45L255.52 -2.28L256.1 -2.17L256.81 -2.14L259.38 -2.14L259.38 0L256.83 0L255.5 -0.07L254.39 -0.28L253.5 -0.63L252.84 -1.12L252.37 -1.8L252.02 -2.71L251.82 -3.85L251.75 -5.22L251.75 -13.83L249.88 -13.83L249.88 -16L251.75 -16L251.75 -20L254.25 -20ZM275.5 -9L275.5 -7.83L264.12 -7.83L264.21 -6.53L264.47 -5.4L264.91 -4.43L265.52 -3.62L266.29 -2.99L267.2 -2.54L268.24 -2.26L269.42 -2.17L270.14 -2.2L270.85 -2.27L271.54 -2.38L272.22 -2.55L272.9 -2.76L273.57 -3.03L274.25 -3.33L274.92 -3.69L274.92 -1.2L274.25 -0.92L273.56 -0.68L272.87 -0.47L272.17 -0.3L271.47 -0.17L270.77 -0.07L270.06 -0.02L269.34 0L267.63 -0.13L266.1 -0.53L264.76 -1.2L263.61 -2.12L262.69 -3.28L262.03 -4.62L261.63 -6.15L261.5 -7.86L261.62 -9.63L262 -11.21L262.62 -12.6L263.5 -13.8L264.59 -14.76L265.85 -15.45L267.29 -15.86L268.91 -16L270.35 -15.88L271.63 -15.53L272.76 -14.94L273.72 -14.11L274.5 -13.09L275.05 -11.89L275.39 -10.53L275.5 -9ZM273 -10L272.93 -10.83L272.72 -11.57L272.37 -12.22L271.88 -12.78L271.27 -13.24L270.58 -13.57L269.8 -13.76L268.92 -13.83L267.93 -13.77L267.04 -13.58L266.25 -13.27L265.56 -12.83L265 -12.28L264.58 -11.62L264.29 -10.86L264.12 -10L273 -10ZM282 -2.75L282 6L279.5 6L279.5 -16L282 -16L282 -13.25L282.42 -13.9L282.9 -14.46L283.42 -14.93L284 -15.31L284.63 -15.61L285.32 -15.83L286.07 -15.96L286.88 -16L288.2 -15.86L289.39 -15.45L290.46 -14.75L291.39 -13.78L292.15 -12.59L292.69 -11.23L293.02 -9.7L293.12 -8L293.02 -6.29L292.69 -4.75L292.15 -3.39L291.39 -2.2L290.46 -1.24L289.39 -0.55L288.2 -0.14L286.88 0L286.07 -0.04L285.32 -0.17L284.63 -0.38L284 -0.67L283.42 -1.06L282.9 -1.54L282.42 -2.1L282 -2.75ZM290.5 -8L290.43 -9.29L290.21 -10.43L289.86 -11.42L289.36 -12.27L288.74 -12.95L288.02 -13.44L287.19 -13.73L286.25 -13.83L285.31 -13.73L284.48 -13.44L283.75 -12.95L283.12 -12.27L282.63 -11.42L282.28 -10.43L282.07 -9.29L282 -8L282.07 -6.71L282.28 -5.57L282.63 -4.57L283.12 -3.72L283.75 -3.04L284.48 -2.56L285.31 -2.27L286.25 -2.17L287.19 -2.27L288.02 -2.56L288.74 -3.04L289.36 -3.72L289.86 -4.57L290.21 -5.57L290.43 -6.71L290.5 -8ZM306.92 -15.16L306.92 -12.75L306.39 -13L305.84 -13.21L305.28 -13.4L304.72 -13.55L304.14 -13.67L303.55 -13.76L302.96 -13.81L302.34 -13.83L301.47 -13.79L300.71 -13.68L300.07 -13.5L299.55 -13.25L299.14 -12.93L298.86 -12.54L298.68 -12.08L298.62 -11.55L298.67 -11.14L298.79 -10.78L299 -10.46L299.3 -10.19L299.72 -9.95L300.3 -9.71L301.06 -9.49L301.98 -9.27L302.84 -9.06L304.08 -8.75L305.12 -8.38L305.97 -7.95L306.62 -7.45L307.12 -6.89L307.47 -6.22L307.68 -5.45L307.75 -4.58L307.65 -3.58L307.33 -2.69L306.81 -1.91L306.08 -1.23L305.16 -0.69L304.09 -0.31L302.86 -0.08L301.47 0L300.85 -0.01L300.21 -0.06L299.56 -0.13L298.91 -0.23L298.24 -0.38L297.55 -0.55L296.85 -0.75L296.12 -0.98L296.12 -3.59L296.81 -3.26L297.49 -2.96L298.16 -2.72L298.83 -2.52L299.5 -2.37L300.16 -2.26L300.83 -2.19L301.48 -2.17L302.31 -2.21L303.03 -2.32L303.65 -2.51L304.17 -2.77L304.59 -3.1L304.89 -3.5L305.07 -3.95L305.12 -4.47L305.08 -4.95L304.95 -5.36L304.74 -5.72L304.44 -6.02L304 -6.29L303.36 -6.55L302.52 -6.81L301.47 -7.06L300.59 -7.27L299.52 -7.54L298.61 -7.88L297.86 -8.28L297.27 -8.75L296.82 -9.3L296.5 -9.95L296.31 -10.7L296.25 -11.53L296.34 -12.54L296.63 -13.43L297.1 -14.19L297.77 -14.83L298.6 -15.34L299.6 -15.71L300.76 -15.93L302.08 -16L302.76 -15.99L303.41 -15.95L304.05 -15.88L304.67 -15.78L305.27 -15.67L305.84 -15.52L306.39 -15.35L306.92 -15.16ZM311.3 -22L313.47 -22L314.41 -20.35L315.23 -18.73L315.92 -17.12L316.48 -15.53L316.93 -13.96L317.25 -12.39L317.44 -10.82L317.5 -9.27L317.44 -7.7L317.25 -6.13L316.93 -4.55L316.48 -2.97L315.92 -1.38L315.23 0.23L314.41 1.86L313.47 3.5L311.3 3.5L312.14 1.9L312.87 0.31L313.48 -1.28L313.98 -2.86L314.37 -4.45L314.65 -6.05L314.82 -7.65L314.88 -9.27L314.82 -10.88L314.65 -12.48L314.37 -14.06L313.98 -15.64L313.48 -17.22L312.87 -18.8L312.14 -20.4L311.3 -22Z" fill="#000"/>
</svg></body></html>
